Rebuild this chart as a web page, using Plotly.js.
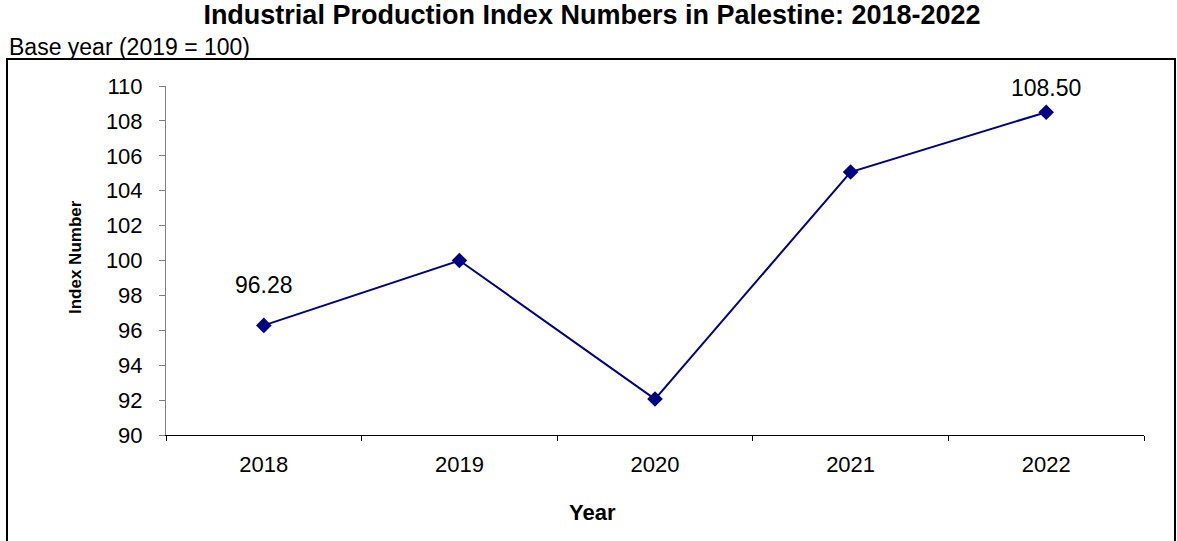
<!DOCTYPE html>
<html>
<head>
<meta charset="utf-8">
<script src="https://cdn.plot.ly/plotly-3.0.1.min.js"></script>
<style>html,body{margin:0;padding:0;background:#fff;}#chart{width:1177px;height:541px;}</style>
</head>
<body>
<div id="chart"></div>
<script>
const years = ["2018", "2019", "2020", "2021", "2022"];
const indexValues = [96.28, 100.0, 92.06, 105.07, 108.50];
const labelledYears = ["2018", "2022"];
const labelShifts = [40, 24];
const yTicks = [90, 92, 94, 96, 98, 100, 102, 104, 106, 108, 110];

const FONT = "Arial, 'Liberation Sans', sans-serif";
const W = 1177, H = 541;
const L = 166, R = 1144, T = 86, B = 435;
const px = x => (x - L) / (R - L);
const py = y => (B - y) / (B - T);

const trace = {
  x: years,
  y: indexValues,
  type: "scatter",
  mode: "lines+markers",
  line: {color: "#000080", width: 2},
  marker: {symbol: "diamond", size: 12, color: "#000080"},
  hoverinfo: "x+y"
};

const annotations = labelledYears.map((yr, i) => {
  const idx = years.indexOf(yr);
  return {
    x: idx, y: indexValues[idx], xref: "x", yref: "y",
    text: indexValues[idx].toFixed(2), showarrow: false,
    xanchor: "center", yanchor: "middle",
    yshift: labelShifts[i], font: {family: FONT, size: 23, color: "#000"}
  };
});
annotations.push(
  {xref: "paper", yref: "paper", x: px(7), y: py(47), xanchor: "left", yanchor: "middle",
   text: "Base year (2019 = 100)", showarrow: false, font: {family: FONT, size: 23, color: "#000"}},
  {xref: "paper", yref: "paper", x: px(75), y: py(257), xanchor: "center", yanchor: "middle",
   text: "<b>Index Number</b>", textangle: -90, showarrow: false, font: {family: FONT, size: 17, color: "#000"}},
  {xref: "paper", yref: "paper", x: px(592), y: py(512), xanchor: "center", yanchor: "middle",
   text: "<b>Year</b>", showarrow: false, font: {family: FONT, size: 22, color: "#000"}}
);

const layout = {
  width: W, height: H,
  margin: {l: L, r: W - R, t: T, b: H - B, pad: 0},
  paper_bgcolor: "#fff", plot_bgcolor: "#fff",
  showlegend: false,
  title: {
    text: "<b>Industrial Production Index Numbers in Palestine: 2018-2022</b>",
    x: 592 / W, xanchor: "center", xref: "container",
    y: 1 - 15 / H, yanchor: "middle", yref: "container",
    font: {family: FONT, size: 27, color: "#000"}
  },
  xaxis: {
    type: "category", range: [-0.5, 4.5], fixedrange: true,
    tickson: "boundaries", ticks: "outside", ticklen: 5, tickcolor: "#000", tickwidth: 1,
    showline: true, linecolor: "#000", linewidth: 1, showgrid: false, zeroline: false,
    tickfont: {family: FONT, size: 22, color: "#000"}, ticklabelstandoff: 10
  },
  yaxis: {
    range: [90, 110], tickvals: yTicks, ticktext: yTicks.map(String), fixedrange: true,
    ticks: "outside", ticklen: 6, tickcolor: "#808080", tickwidth: 1,
    showline: true, linecolor: "#808080", linewidth: 1, showgrid: false, zeroline: false,
    tickfont: {family: FONT, size: 22, color: "#000"}, ticklabelstandoff: 12
  },
  shapes: [{
    type: "rect", xref: "paper", yref: "paper",
    x0: px(7), x1: px(1175), y0: py(560), y1: py(59),
    line: {color: "#000", width: 2}, fillcolor: "rgba(0,0,0,0)", layer: "below"
  }],
  annotations: annotations
};

Plotly.newPlot("chart", [trace], layout, {displayModeBar: false, staticPlot: true});
</script>
</body>
</html>
